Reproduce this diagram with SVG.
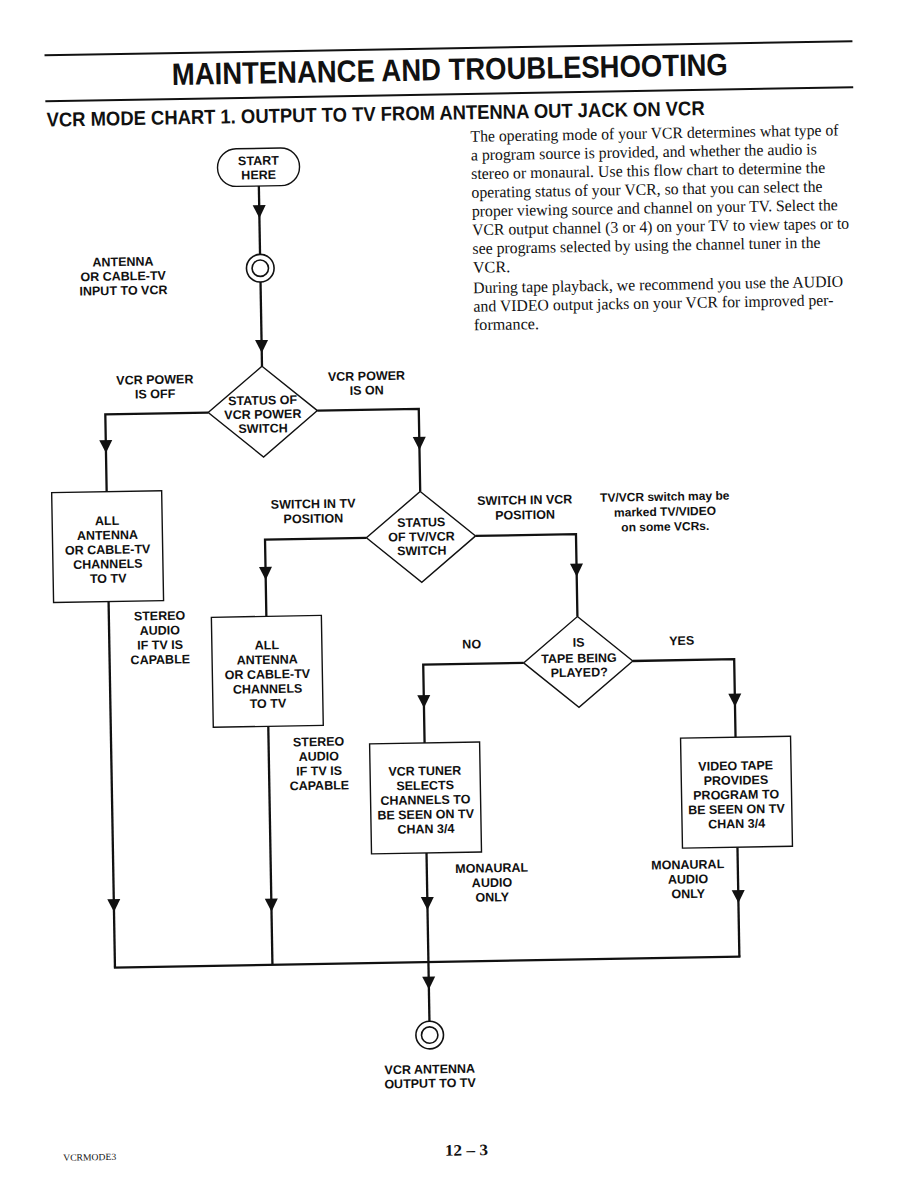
<svg xmlns="http://www.w3.org/2000/svg" xmlns:xlink="http://www.w3.org/1999/xlink" width="918" height="1188" viewBox="0 0 918 1188">
<style>
.lbl{font-family:"Liberation Sans",Arial,Helvetica,sans-serif;font-weight:bold;font-size:12.5px;text-anchor:middle;fill:#111}
.note{font-family:"Liberation Sans",Arial,Helvetica,sans-serif;font-weight:bold;font-size:12px;text-anchor:middle;fill:#111}
.shape{fill:#fff;stroke:#111;stroke-width:1.4}
.conn{fill:none;stroke:#111;stroke-width:2.3}
.rule{stroke:#111;stroke-width:2}
.para{font-family:"Liberation Serif","Times New Roman",serif;font-size:16.2px;fill:#111}
.head{font-family:"Liberation Sans",Arial,Helvetica,sans-serif;font-weight:bold;fill:#111}
</style>
<defs>
<path id="ah" d="M-6.5,-13 L6.5,-13 L0,0 Z" fill="#111"/>
<g id="jack"><circle r="13.8" fill="#fff" stroke="#111" stroke-width="1.6"/><circle r="8.2" fill="none" stroke="#111" stroke-width="1.6"/></g>
</defs>
<rect x="0" y="0" width="918" height="1188" fill="#fff"/>
<g transform="rotate(-1 459 594)">
<g id="header">
<line class="rule" x1="54" y1="48.2" x2="862" y2="48.2"/>
<line class="rule" x1="54" y1="94.2" x2="862" y2="94.2"/>
<text class="head" x="459" y="80" font-size="31" text-anchor="middle" textLength="556" lengthAdjust="spacingAndGlyphs">MAINTENANCE AND TROUBLESHOOTING</text>
<text class="head" x="55" y="119.5" font-size="20" textLength="658" lengthAdjust="spacingAndGlyphs">VCR MODE CHART 1. OUTPUT TO TV FROM ANTENNA OUT JACK ON VCR</text>
</g>
<g id="paragraph" class="para">
<text x="478.5" y="142" textLength="368" lengthAdjust="spacingAndGlyphs">The operating mode of your VCR determines what type of</text>
<text x="478.5" y="160.7" textLength="346" lengthAdjust="spacingAndGlyphs">a program source is provided, and whether the audio is</text>
<text x="478.5" y="179.4" textLength="354" lengthAdjust="spacingAndGlyphs">stereo or monaural. Use this flow chart to determine the</text>
<text x="478.5" y="198.1" textLength="351" lengthAdjust="spacingAndGlyphs">operating status of your VCR, so that you can select the</text>
<text x="478.5" y="216.8" textLength="366" lengthAdjust="spacingAndGlyphs">proper viewing source and channel on your TV. Select the</text>
<text x="478.5" y="235.5" textLength="377" lengthAdjust="spacingAndGlyphs">VCR output channel (3 or 4) on your TV to view tapes or to</text>
<text x="478.5" y="254.2" textLength="348" lengthAdjust="spacingAndGlyphs">see programs selected by using the channel tuner in the</text>
<text x="478.5" y="273">VCR.</text>
<text x="478.5" y="293.5" textLength="370" lengthAdjust="spacingAndGlyphs">During tape playback, we recommend you use the AUDIO</text>
<text x="478.5" y="312" textLength="360" lengthAdjust="spacingAndGlyphs">and VIDEO output jacks on your VCR for improved per-</text>
<text x="478.5" y="330.5">formance.</text>
</g>
<g id="connectors">
<path class="conn" d="M266 182.6 V251"/>
<path class="conn" d="M266 278.6 V362.8"/>
<path class="conn" d="M211.4 408.2 H108.5 V485.5"/>
<path class="conn" d="M320.6 408.2 H422 V490.8"/>
<path class="conn" d="M367.4 536.2 H266 V613"/>
<path class="conn" d="M476.6 536.2 H577 V618.6"/>
<path class="conn" d="M522.4 664 H422 V742.3"/>
<path class="conn" d="M631.6 664 H733 V742"/>
<path class="conn" d="M108.5 595.5 V961.5"/>
<path class="conn" d="M266 723 V961.5"/>
<path class="conn" d="M422 852.3 V961.5"/>
<path class="conn" d="M733 852 V961.5"/>
<path class="conn" d="M107.4 961.5 H734.1"/>
<path class="conn" d="M422 961.5 V1020.7"/>
<use xlink:href="#ah" x="266" y="214.8"/>
<use xlink:href="#ah" x="266" y="349.6"/>
<use xlink:href="#ah" x="108.5" y="446.9"/>
<use xlink:href="#ah" x="422" y="449.3"/>
<use xlink:href="#ah" x="266" y="576.6"/>
<use xlink:href="#ah" x="577" y="578.7"/>
<use xlink:href="#ah" x="422" y="707.4"/>
<use xlink:href="#ah" x="733" y="711.5"/>
<use xlink:href="#ah" x="108.5" y="906"/>
<use xlink:href="#ah" x="266" y="908.4"/>
<use xlink:href="#ah" x="422" y="909.4"/>
<use xlink:href="#ah" x="733" y="907.9"/>
<use xlink:href="#ah" x="422" y="989"/>
</g>
<g id="start">
<rect class="shape" x="225" y="145" width="82" height="37.6" rx="18.8"/>
<text class="lbl"><tspan x="266" y="161.5">START</tspan><tspan x="266" y="175.8">HERE</tspan></text>
</g>
<g id="antenna-input">
<use xlink:href="#jack" x="266" y="264.8"/>
<text class="lbl"><tspan x="128.8" y="260.2">ANTENNA</tspan><tspan x="128.8" y="274.6">OR CABLE-TV</tspan><tspan x="128.8" y="289">INPUT TO VCR</tspan></text>
</g>
<g id="power-switch">
<polygon class="shape" points="266,362.8 320.6,408.2 266,453.6 211.4,408.2"/>
<text class="lbl"><tspan x="266" y="401.2">STATUS OF</tspan><tspan x="266" y="415.2">VCR POWER</tspan><tspan x="266" y="429.3">SWITCH</tspan></text>
</g>
<g id="power-labels">
<text class="lbl"><tspan x="158.6" y="378.7">VCR POWER</tspan><tspan x="158.6" y="393">IS OFF</tspan></text>
<text class="lbl"><tspan x="370.3" y="378.7">VCR POWER</tspan><tspan x="370.3" y="393">IS ON</tspan></text>
</g>
<g id="box-all-off">
<rect class="shape" x="53.5" y="485.5" width="110" height="110"/>
<text class="lbl"><tspan x="108.5" y="518.9">ALL</tspan><tspan x="108.5" y="533.3">ANTENNA</tspan><tspan x="108.5" y="547.8">OR CABLE-TV</tspan><tspan x="108.5" y="562.2">CHANNELS</tspan><tspan x="108.5" y="576.6">TO TV</tspan></text>
<text class="lbl"><tspan x="159.2" y="614.8">STEREO</tspan><tspan x="159.2" y="629.4">AUDIO</tspan><tspan x="159.2" y="644">IF TV IS</tspan><tspan x="159.2" y="658.6">CAPABLE</tspan></text>
</g>
<g id="tvvcr-switch">
<polygon class="shape" points="422,490.8 476.6,536.2 422,581.6 367.4,536.2"/>
<text class="lbl"><tspan x="422.5" y="526">STATUS</tspan><tspan x="422.5" y="540.3">OF TV/VCR</tspan><tspan x="422.5" y="554.3">SWITCH</tspan></text>
<text class="lbl"><tspan x="314.7" y="505.6">SWITCH IN TV</tspan><tspan x="314.7" y="520.3">POSITION</tspan></text>
<text class="lbl"><tspan x="526.4" y="505.4">SWITCH IN VCR</tspan><tspan x="526.4" y="520.3">POSITION</tspan></text>
<text class="note"><tspan x="666.4" y="504.3">TV/VCR switch may be</tspan><tspan x="666.4" y="519.4">marked TV/VIDEO</tspan><tspan x="666.4" y="534.3">on some VCRs.</tspan></text>
</g>
<g id="box-all-tv">
<rect class="shape" x="211" y="613" width="110" height="110"/>
<text class="lbl"><tspan x="266" y="646">ALL</tspan><tspan x="266" y="660.6">ANTENNA</tspan><tspan x="266" y="675.2">OR CABLE-TV</tspan><tspan x="266" y="689.8">CHANNELS</tspan><tspan x="266" y="704.4">TO TV</tspan></text>
<text class="lbl"><tspan x="316" y="743.5">STEREO</tspan><tspan x="316" y="758.1">AUDIO</tspan><tspan x="316" y="772.7">IF TV IS</tspan><tspan x="316" y="787.3">CAPABLE</tspan></text>
</g>
<g id="tape-played">
<polygon class="shape" points="577,618.6 631.6,664 577,709.4 522.4,664"/>
<text class="lbl"><tspan x="577.8" y="648.8">IS</tspan><tspan x="577.8" y="664.6">TAPE BEING</tspan><tspan x="577.8" y="678.8">PLAYED?</tspan></text>
<text class="lbl" x="470.8" y="648.6">NO</text>
<text class="lbl" x="680.8" y="648.8">YES</text>
</g>
<g id="box-tuner">
<rect class="shape" x="367" y="742.3" width="110" height="110"/>
<text class="lbl"><tspan x="421.8" y="774.6">VCR TUNER</tspan><tspan x="421.8" y="789.1">SELECTS</tspan><tspan x="421.8" y="803.6">CHANNELS TO</tspan><tspan x="421.8" y="818.1">BE SEEN ON TV</tspan><tspan x="421.8" y="832.6">CHAN 3/4</tspan></text>
<text class="lbl"><tspan x="486.9" y="872.8">MONAURAL</tspan><tspan x="486.9" y="887.4">AUDIO</tspan><tspan x="486.9" y="902">ONLY</tspan></text>
</g>
<g id="box-tape">
<rect class="shape" x="678" y="742" width="110" height="110"/>
<text class="lbl"><tspan x="732.6" y="774.8">VIDEO TAPE</tspan><tspan x="732.6" y="789.3">PROVIDES</tspan><tspan x="732.6" y="803.8">PROGRAM TO</tspan><tspan x="732.6" y="818.3">BE SEEN ON TV</tspan><tspan x="732.6" y="832.8">CHAN 3/4</tspan></text>
<text class="lbl"><tspan x="683" y="872.8">MONAURAL</tspan><tspan x="683" y="887.4">AUDIO</tspan><tspan x="683" y="902">ONLY</tspan></text>
</g>
<g id="antenna-output">
<use xlink:href="#jack" x="422" y="1034.5"/>
<text class="lbl"><tspan x="421.5" y="1072.9">VCR ANTENNA</tspan><tspan x="421.5" y="1087">OUTPUT TO TV</tspan></text>
</g>
<g id="footer">
<text x="53.4" y="1153.8" font-family="'Liberation Serif','Times New Roman',serif" font-size="9.5" fill="#111" textLength="53" lengthAdjust="spacingAndGlyphs">VCRMODE3</text>
<text x="435.2" y="1155.5" font-family="'Liberation Serif','Times New Roman',serif" font-weight="bold" font-size="16" fill="#111" textLength="43" lengthAdjust="spacingAndGlyphs">12 – 3</text>
</g>
</g>
</svg>
